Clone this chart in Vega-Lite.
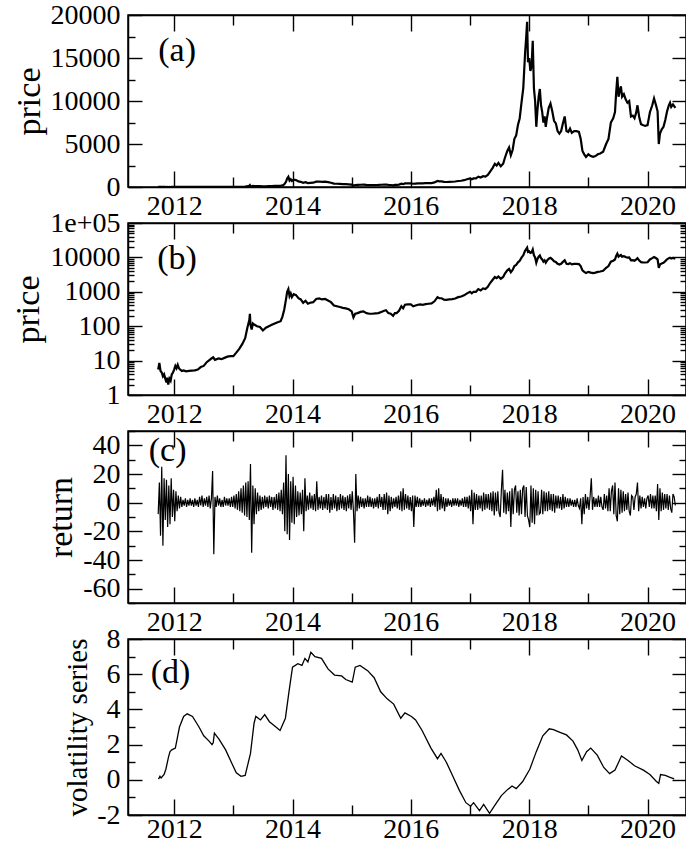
{
"$schema": "https://vega.github.io/schema/vega-lite/v6.json",
"padding": {"left": 11, "top": 0, "right": 0, "bottom": 0},
"spacing": 36,
"bounds": "flush",
"config": {
  "font": "Liberation Serif",
  "text": {"font": "Liberation Serif", "fontWeight": "normal"},
  "view": {"stroke": "black", "strokeWidth": 1.5},
  "axis": {"domainColor": "black", "domainWidth": 1.5, "tickColor": "black", "tickWidth": 1.4, "labelColor": "black", "labelFont": "Liberation Serif", "labelFontWeight": "normal", "labelFontSize": 28, "titleFont": "Liberation Serif", "titleFontWeight": "normal", "titleColor": "black", "grid": false, "labelFlush": false, "labelOverlap": false, "labelBound": false}
},
"datasets": {
  "price": [
    {"t":2011.73,"p":5.5},{"t":2011.75,"p":8.5},{"t":2011.77,"p":5},{"t":2011.79,"p":4.5},{"t":2011.81,"p":3.5},{"t":2011.83,"p":4},{"t":2011.85,"p":3},{"t":2011.87,"p":2.3},{"t":2011.88,"p":3.2},{"t":2011.9,"p":2},{"t":2011.92,"p":3},{"t":2011.94,"p":2.6},{"t":2011.96,"p":4},{"t":2011.98,"p":4.5},{"t":2012.0,"p":5.5},{"t":2012.02,"p":7},{"t":2012.04,"p":6},{"t":2012.06,"p":7.5},{"t":2012.08,"p":6},{"t":2012.1,"p":5.5},{"t":2012.13,"p":5},{"t":2012.16,"p":5.2},{"t":2012.2,"p":4.9},{"t":2012.25,"p":5.0},{"t":2012.3,"p":5.1},{"t":2012.35,"p":5.2},{"t":2012.4,"p":5.5},{"t":2012.45,"p":6.5},{"t":2012.5,"p":7},{"t":2012.55,"p":9},{"t":2012.6,"p":10.5},{"t":2012.63,"p":11.5},{"t":2012.66,"p":12.5},{"t":2012.69,"p":10.5},{"t":2012.75,"p":11.5},{"t":2012.8,"p":11},{"t":2012.85,"p":12},{"t":2012.9,"p":13},{"t":2012.95,"p":13.5},{"t":2013.0,"p":13.5},{"t":2013.05,"p":17},{"t":2013.1,"p":22},{"t":2013.15,"p":30},{"t":2013.2,"p":45},{"t":2013.24,"p":95},{"t":2013.27,"p":150},{"t":2013.28,"p":230},{"t":2013.29,"p":110},{"t":2013.31,"p":80},{"t":2013.33,"p":120},{"t":2013.36,"p":110},{"t":2013.4,"p":100},{"t":2013.45,"p":95},{"t":2013.5,"p":75},{"t":2013.55,"p":90},{"t":2013.6,"p":100},{"t":2013.65,"p":110},{"t":2013.7,"p":120},{"t":2013.75,"p":130},{"t":2013.8,"p":140},{"t":2013.83,"p":190},{"t":2013.86,"p":300},{"t":2013.89,"p":600},{"t":2013.91,"p":1000},{"t":2013.93,"p":1200},{"t":2013.95,"p":750},{"t":2013.97,"p":900},{"t":2013.99,"p":700},{"t":2014.02,"p":850},{"t":2014.06,"p":800},{"t":2014.1,"p":650},{"t":2014.14,"p":600},{"t":2014.18,"p":480},{"t":2014.22,"p":550},{"t":2014.26,"p":450},{"t":2014.3,"p":480},{"t":2014.35,"p":500},{"t":2014.4,"p":620},{"t":2014.45,"p":640},{"t":2014.5,"p":600},{"t":2014.55,"p":620},{"t":2014.6,"p":560},{"t":2014.65,"p":500},{"t":2014.7,"p":400},{"t":2014.75,"p":380},{"t":2014.8,"p":360},{"t":2014.85,"p":340},{"t":2014.9,"p":330},{"t":2014.95,"p":310},{"t":2015.0,"p":270},{"t":2015.03,"p":180},{"t":2015.06,"p":230},{"t":2015.1,"p":240},{"t":2015.15,"p":260},{"t":2015.2,"p":270},{"t":2015.25,"p":240},{"t":2015.3,"p":230},{"t":2015.35,"p":230},{"t":2015.4,"p":235},{"t":2015.45,"p":240},{"t":2015.5,"p":260},{"t":2015.55,"p":280},{"t":2015.58,"p":290},{"t":2015.62,"p":240},{"t":2015.66,"p":230},{"t":2015.7,"p":200},{"t":2015.73,"p":240},{"t":2015.76,"p":240},{"t":2015.8,"p":280},{"t":2015.84,"p":380},{"t":2015.87,"p":330},{"t":2015.9,"p":420},{"t":2015.95,"p":430},{"t":2016.0,"p":430},{"t":2016.04,"p":380},{"t":2016.08,"p":400},{"t":2016.12,"p":420},{"t":2016.16,"p":430},{"t":2016.2,"p":420},{"t":2016.25,"p":440},{"t":2016.3,"p":450},{"t":2016.35,"p":460},{"t":2016.4,"p":530},{"t":2016.45,"p":700},{"t":2016.48,"p":650},{"t":2016.52,"p":650},{"t":2016.56,"p":590},{"t":2016.6,"p":580},{"t":2016.65,"p":600},{"t":2016.7,"p":610},{"t":2016.75,"p":640},{"t":2016.8,"p":700},{"t":2016.85,"p":730},{"t":2016.9,"p":790},{"t":2016.95,"p":900},{"t":2017.0,"p":1000},{"t":2017.03,"p":900},{"t":2017.06,"p":1000},{"t":2017.1,"p":1000},{"t":2017.14,"p":1200},{"t":2017.18,"p":1100},{"t":2017.22,"p":1250},{"t":2017.26,"p":1200},{"t":2017.3,"p":1400},{"t":2017.34,"p":1800},{"t":2017.38,"p":2200},{"t":2017.42,"p":2700},{"t":2017.45,"p":2500},{"t":2017.48,"p":2800},{"t":2017.52,"p":2400},{"t":2017.56,"p":2700},{"t":2017.59,"p":3400},{"t":2017.63,"p":4200},{"t":2017.66,"p":4600},{"t":2017.69,"p":3700},{"t":2017.72,"p":4300},{"t":2017.75,"p":5600},{"t":2017.78,"p":6000},{"t":2017.81,"p":7200},{"t":2017.84,"p":8000},{"t":2017.87,"p":9800},{"t":2017.9,"p":11500},{"t":2017.93,"p":15500},{"t":2017.95,"p":17500},{"t":2017.965,"p":19200},{"t":2017.98,"p":14500},{"t":2018.0,"p":15000},{"t":2018.02,"p":13500},{"t":2018.04,"p":14000},{"t":2018.06,"p":17000},{"t":2018.08,"p":11500},{"t":2018.1,"p":10000},{"t":2018.12,"p":7000},{"t":2018.14,"p":9000},{"t":2018.16,"p":10500},{"t":2018.18,"p":11400},{"t":2018.2,"p":9500},{"t":2018.22,"p":8700},{"t":2018.24,"p":7500},{"t":2018.26,"p":8200},{"t":2018.28,"p":7000},{"t":2018.3,"p":8000},{"t":2018.33,"p":9200},{"t":2018.36,"p":9700},{"t":2018.39,"p":8800},{"t":2018.42,"p":7700},{"t":2018.45,"p":7400},{"t":2018.48,"p":6500},{"t":2018.51,"p":6200},{"t":2018.54,"p":6500},{"t":2018.57,"p":7400},{"t":2018.6,"p":8200},{"t":2018.63,"p":6500},{"t":2018.66,"p":6400},{"t":2018.69,"p":6800},{"t":2018.72,"p":6300},{"t":2018.76,"p":6500},{"t":2018.8,"p":6500},{"t":2018.84,"p":6400},{"t":2018.87,"p":5600},{"t":2018.9,"p":4200},{"t":2018.93,"p":3800},{"t":2018.96,"p":3500},{"t":2019.0,"p":3800},{"t":2019.04,"p":3600},{"t":2019.08,"p":3500},{"t":2019.12,"p":3600},{"t":2019.16,"p":3800},{"t":2019.2,"p":3900},{"t":2019.25,"p":4100},{"t":2019.3,"p":5000},{"t":2019.34,"p":5600},{"t":2019.38,"p":7500},{"t":2019.42,"p":8000},{"t":2019.45,"p":8700},{"t":2019.47,"p":11000},{"t":2019.49,"p":12800},{"t":2019.51,"p":10500},{"t":2019.53,"p":11200},{"t":2019.55,"p":11700},{"t":2019.57,"p":10500},{"t":2019.6,"p":10800},{"t":2019.63,"p":10200},{"t":2019.66,"p":9800},{"t":2019.69,"p":10000},{"t":2019.72,"p":8200},{"t":2019.75,"p":8300},{"t":2019.78,"p":8000},{"t":2019.81,"p":8700},{"t":2019.83,"p":9500},{"t":2019.86,"p":8100},{"t":2019.89,"p":7300},{"t":2019.92,"p":7200},{"t":2019.96,"p":7100},{"t":2020.0,"p":7200},{"t":2020.04,"p":8700},{"t":2020.08,"p":9500},{"t":2020.11,"p":10300},{"t":2020.14,"p":9600},{"t":2020.17,"p":8800},{"t":2020.19,"p":5000},{"t":2020.21,"p":6200},{"t":2020.24,"p":6700},{"t":2020.27,"p":7000},{"t":2020.3,"p":7800},{"t":2020.33,"p":8800},{"t":2020.36,"p":9500},{"t":2020.38,"p":9800},{"t":2020.4,"p":9300},{"t":2020.43,"p":9600},{"t":2020.47,"p":9200}
  ],
  "ret": [
    {"t":2011.73,"r":-8},{"t":2011.75,"r":14},{"t":2011.77,"r":-23},{"t":2011.79,"r":25},{"t":2011.81,"r":-30},{"t":2011.83,"r":17},{"t":2011.85,"r":-12},{"t":2011.87,"r":16},{"t":2011.89,"r":-17},{"t":2011.91,"r":12},{"t":2011.93,"r":-15},{"t":2011.95,"r":17},{"t":2011.97,"r":-10},{"t":2011.99,"r":9},
    {"t":2012.01,"r":-13},{"t":2012.03,"r":8},{"t":2012.05,"r":-6},{"t":2012.07,"r":5},{"t":2012.09,"r":-4},{"t":2012.11,"r":4},{"t":2012.13,"r":-3},{"t":2012.15,"r":2},{"t":2012.17,"r":-2},{"t":2012.19,"r":3},{"t":2012.21,"r":-3},{"t":2012.23,"r":2},{"t":2012.25,"r":-2},{"t":2012.27,"r":3},{"t":2012.29,"r":-2},{"t":2012.31,"r":2},{"t":2012.33,"r":-3},{"t":2012.35,"r":3},{"t":2012.37,"r":-2},{"t":2012.39,"r":2},{"t":2012.41,"r":-3},{"t":2012.43,"r":4},{"t":2012.45,"r":-2},{"t":2012.47,"r":5},{"t":2012.49,"r":-3},{"t":2012.51,"r":3},{"t":2012.53,"r":-2},{"t":2012.55,"r":4},{"t":2012.57,"r":-3},{"t":2012.59,"r":5},{"t":2012.61,"r":-4},{"t":2012.63,"r":3},{"t":2012.65,"r":22},{"t":2012.67,"r":-36},{"t":2012.69,"r":4},{"t":2012.71,"r":-3},{"t":2012.73,"r":5},{"t":2012.75,"r":-2},{"t":2012.77,"r":3},{"t":2012.79,"r":-3},{"t":2012.81,"r":2},{"t":2012.83,"r":-3},{"t":2012.85,"r":4},{"t":2012.87,"r":-2},{"t":2012.89,"r":3},{"t":2012.91,"r":-2},{"t":2012.93,"r":3},{"t":2012.95,"r":-3},{"t":2012.97,"r":4},{"t":2012.99,"r":-3},
    {"t":2013.01,"r":5},{"t":2013.03,"r":-4},{"t":2013.05,"r":6},{"t":2013.07,"r":-5},{"t":2013.09,"r":8},{"t":2013.11,"r":-6},{"t":2013.13,"r":10},{"t":2013.15,"r":-7},{"t":2013.17,"r":12},{"t":2013.19,"r":-9},{"t":2013.21,"r":14},{"t":2013.23,"r":-10},{"t":2013.25,"r":15},{"t":2013.27,"r":-12},{"t":2013.29,"r":27},{"t":2013.31,"r":-35},{"t":2013.33,"r":12},{"t":2013.35,"r":-15},{"t":2013.37,"r":10},{"t":2013.39,"r":-8},{"t":2013.41,"r":7},{"t":2013.43,"r":-6},{"t":2013.45,"r":5},{"t":2013.47,"r":-5},{"t":2013.49,"r":4},{"t":2013.51,"r":-4},{"t":2013.53,"r":5},{"t":2013.55,"r":-3},{"t":2013.57,"r":4},{"t":2013.59,"r":-4},{"t":2013.61,"r":5},{"t":2013.63,"r":-3},{"t":2013.65,"r":4},{"t":2013.67,"r":-5},{"t":2013.69,"r":4},{"t":2013.71,"r":-4},{"t":2013.73,"r":6},{"t":2013.75,"r":-5},{"t":2013.77,"r":7},{"t":2013.79,"r":-6},{"t":2013.81,"r":9},{"t":2013.83,"r":-8},{"t":2013.85,"r":14},{"t":2013.87,"r":-20},{"t":2013.89,"r":33},{"t":2013.91,"r":-22},{"t":2013.93,"r":20},{"t":2013.95,"r":-26},{"t":2013.97,"r":15},{"t":2013.99,"r":-14},
    {"t":2014.01,"r":18},{"t":2014.03,"r":-15},{"t":2014.05,"r":12},{"t":2014.07,"r":-10},{"t":2014.09,"r":8},{"t":2014.11,"r":-9},{"t":2014.13,"r":7},{"t":2014.15,"r":-8},{"t":2014.17,"r":9},{"t":2014.19,"r":-20},{"t":2014.21,"r":17},{"t":2014.23,"r":-6},{"t":2014.25,"r":5},{"t":2014.27,"r":-5},{"t":2014.29,"r":7},{"t":2014.31,"r":-4},{"t":2014.33,"r":5},{"t":2014.35,"r":-5},{"t":2014.37,"r":6},{"t":2014.39,"r":-6},{"t":2014.41,"r":15},{"t":2014.43,"r":-5},{"t":2014.45,"r":4},{"t":2014.47,"r":-4},{"t":2014.49,"r":5},{"t":2014.51,"r":-5},{"t":2014.53,"r":4},{"t":2014.55,"r":-4},{"t":2014.57,"r":6},{"t":2014.59,"r":-5},{"t":2014.61,"r":6},{"t":2014.63,"r":-7},{"t":2014.65,"r":4},{"t":2014.67,"r":-5},{"t":2014.69,"r":6},{"t":2014.71,"r":-4},{"t":2014.73,"r":5},{"t":2014.75,"r":-6},{"t":2014.77,"r":4},{"t":2014.79,"r":-5},{"t":2014.81,"r":6},{"t":2014.83,"r":-4},{"t":2014.85,"r":5},{"t":2014.87,"r":-5},{"t":2014.89,"r":4},{"t":2014.91,"r":-6},{"t":2014.93,"r":5},{"t":2014.95,"r":-4},{"t":2014.97,"r":6},{"t":2014.99,"r":-5},
    {"t":2015.01,"r":8},{"t":2015.03,"r":-6},{"t":2015.05,"r":-28},{"t":2015.07,"r":20},{"t":2015.09,"r":-6},{"t":2015.11,"r":5},{"t":2015.13,"r":-4},{"t":2015.15,"r":4},{"t":2015.17,"r":-3},{"t":2015.19,"r":3},{"t":2015.21,"r":-4},{"t":2015.23,"r":3},{"t":2015.25,"r":-3},{"t":2015.27,"r":5},{"t":2015.29,"r":-3},{"t":2015.31,"r":4},{"t":2015.33,"r":-3},{"t":2015.35,"r":3},{"t":2015.37,"r":-4},{"t":2015.39,"r":3},{"t":2015.41,"r":-3},{"t":2015.43,"r":4},{"t":2015.45,"r":-4},{"t":2015.47,"r":6},{"t":2015.49,"r":-3},{"t":2015.51,"r":4},{"t":2015.53,"r":-5},{"t":2015.55,"r":6},{"t":2015.57,"r":-5},{"t":2015.59,"r":7},{"t":2015.61,"r":-8},{"t":2015.63,"r":5},{"t":2015.65,"r":-6},{"t":2015.67,"r":4},{"t":2015.69,"r":-4},{"t":2015.71,"r":3},{"t":2015.73,"r":-3},{"t":2015.75,"r":4},{"t":2015.77,"r":-4},{"t":2015.79,"r":5},{"t":2015.81,"r":-5},{"t":2015.83,"r":8},{"t":2015.85,"r":-6},{"t":2015.87,"r":10},{"t":2015.89,"r":-5},{"t":2015.91,"r":6},{"t":2015.93,"r":-4},{"t":2015.95,"r":5},{"t":2015.97,"r":-5},{"t":2015.99,"r":4},
    {"t":2016.01,"r":-6},{"t":2016.03,"r":5},{"t":2016.05,"r":-17},{"t":2016.07,"r":5},{"t":2016.09,"r":-3},{"t":2016.11,"r":4},{"t":2016.13,"r":-3},{"t":2016.15,"r":3},{"t":2016.17,"r":-3},{"t":2016.19,"r":2},{"t":2016.21,"r":-2},{"t":2016.23,"r":3},{"t":2016.25,"r":-3},{"t":2016.27,"r":2},{"t":2016.29,"r":-2},{"t":2016.31,"r":3},{"t":2016.33,"r":-3},{"t":2016.35,"r":3},{"t":2016.37,"r":-2},{"t":2016.39,"r":4},{"t":2016.41,"r":-3},{"t":2016.43,"r":9},{"t":2016.45,"r":-6},{"t":2016.47,"r":10},{"t":2016.49,"r":-5},{"t":2016.51,"r":6},{"t":2016.53,"r":-4},{"t":2016.55,"r":4},{"t":2016.57,"r":-6},{"t":2016.59,"r":3},{"t":2016.61,"r":-3},{"t":2016.63,"r":3},{"t":2016.65,"r":-2},{"t":2016.67,"r":2},{"t":2016.69,"r":-3},{"t":2016.71,"r":3},{"t":2016.73,"r":-2},{"t":2016.75,"r":3},{"t":2016.77,"r":-2},{"t":2016.79,"r":3},{"t":2016.81,"r":-3},{"t":2016.83,"r":2},{"t":2016.85,"r":-2},{"t":2016.87,"r":3},{"t":2016.89,"r":-3},{"t":2016.91,"r":4},{"t":2016.93,"r":-3},{"t":2016.95,"r":4},{"t":2016.97,"r":-4},{"t":2016.99,"r":5},
    {"t":2017.01,"r":-6},{"t":2017.03,"r":9},{"t":2017.05,"r":-15},{"t":2017.07,"r":7},{"t":2017.09,"r":-5},{"t":2017.11,"r":6},{"t":2017.13,"r":-5},{"t":2017.15,"r":5},{"t":2017.17,"r":-4},{"t":2017.19,"r":5},{"t":2017.21,"r":-6},{"t":2017.23,"r":7},{"t":2017.25,"r":-5},{"t":2017.27,"r":6},{"t":2017.29,"r":-4},{"t":2017.31,"r":6},{"t":2017.33,"r":-5},{"t":2017.35,"r":7},{"t":2017.37,"r":-6},{"t":2017.39,"r":8},{"t":2017.41,"r":-9},{"t":2017.43,"r":7},{"t":2017.45,"r":-6},{"t":2017.47,"r":8},{"t":2017.49,"r":-7},{"t":2017.51,"r":-10},{"t":2017.53,"r":9},{"t":2017.55,"r":23},{"t":2017.57,"r":-7},{"t":2017.59,"r":9},{"t":2017.61,"r":-8},{"t":2017.63,"r":7},{"t":2017.65,"r":-6},{"t":2017.67,"r":8},{"t":2017.69,"r":-17},{"t":2017.71,"r":10},{"t":2017.73,"r":-8},{"t":2017.75,"r":9},{"t":2017.77,"r":12},{"t":2017.79,"r":-7},{"t":2017.81,"r":8},{"t":2017.83,"r":-9},{"t":2017.85,"r":9},{"t":2017.87,"r":-8},{"t":2017.89,"r":10},{"t":2017.91,"r":12},{"t":2017.93,"r":-10},{"t":2017.95,"r":11},{"t":2017.97,"r":-9},{"t":2017.99,"r":-12},
    {"t":2018.01,"r":-17},{"t":2018.03,"r":12},{"t":2018.05,"r":-14},{"t":2018.07,"r":10},{"t":2018.09,"r":-15},{"t":2018.11,"r":9},{"t":2018.13,"r":-9},{"t":2018.15,"r":8},{"t":2018.17,"r":-8},{"t":2018.19,"r":-7},{"t":2018.21,"r":9},{"t":2018.23,"r":-8},{"t":2018.25,"r":8},{"t":2018.27,"r":-6},{"t":2018.29,"r":7},{"t":2018.31,"r":-6},{"t":2018.33,"r":8},{"t":2018.35,"r":-5},{"t":2018.37,"r":6},{"t":2018.39,"r":-6},{"t":2018.41,"r":6},{"t":2018.43,"r":-7},{"t":2018.45,"r":5},{"t":2018.47,"r":-4},{"t":2018.49,"r":5},{"t":2018.51,"r":-4},{"t":2018.53,"r":4},{"t":2018.55,"r":-5},{"t":2018.57,"r":6},{"t":2018.59,"r":-4},{"t":2018.61,"r":4},{"t":2018.63,"r":-3},{"t":2018.65,"r":3},{"t":2018.67,"r":-3},{"t":2018.69,"r":3},{"t":2018.71,"r":-2},{"t":2018.73,"r":2},{"t":2018.75,"r":-3},{"t":2018.77,"r":2},{"t":2018.79,"r":-3},{"t":2018.81,"r":3},{"t":2018.83,"r":-2},{"t":2018.85,"r":-4},{"t":2018.87,"r":3},{"t":2018.89,"r":-15},{"t":2018.91,"r":4},{"t":2018.93,"r":-8},{"t":2018.95,"r":6},{"t":2018.97,"r":-4},{"t":2018.99,"r":4},
    {"t":2019.01,"r":-5},{"t":2019.03,"r":5},{"t":2019.05,"r":17},{"t":2019.07,"r":-5},{"t":2019.09,"r":4},{"t":2019.11,"r":-3},{"t":2019.13,"r":3},{"t":2019.15,"r":-3},{"t":2019.17,"r":5},{"t":2019.19,"r":-3},{"t":2019.21,"r":4},{"t":2019.23,"r":-3},{"t":2019.25,"r":-5},{"t":2019.27,"r":6},{"t":2019.29,"r":-4},{"t":2019.31,"r":5},{"t":2019.33,"r":-6},{"t":2019.35,"r":10},{"t":2019.37,"r":-6},{"t":2019.39,"r":8},{"t":2019.41,"r":12},{"t":2019.43,"r":-8},{"t":2019.45,"r":14},{"t":2019.47,"r":-9},{"t":2019.49,"r":-13},{"t":2019.51,"r":10},{"t":2019.53,"r":-8},{"t":2019.55,"r":9},{"t":2019.57,"r":-7},{"t":2019.59,"r":8},{"t":2019.61,"r":-6},{"t":2019.63,"r":6},{"t":2019.65,"r":-5},{"t":2019.67,"r":7},{"t":2019.69,"r":-6},{"t":2019.71,"r":-9},{"t":2019.73,"r":5},{"t":2019.75,"r":4},{"t":2019.77,"r":-5},{"t":2019.79,"r":4},{"t":2019.81,"r":6},{"t":2019.83,"r":14},{"t":2019.85,"r":-6},{"t":2019.87,"r":5},{"t":2019.89,"r":-4},{"t":2019.91,"r":4},{"t":2019.93,"r":-3},{"t":2019.95,"r":3},{"t":2019.97,"r":-4},{"t":2019.99,"r":3},
    {"t":2020.01,"r":5},{"t":2020.03,"r":-3},{"t":2020.05,"r":6},{"t":2020.07,"r":-4},{"t":2020.09,"r":5},{"t":2020.11,"r":-4},{"t":2020.13,"r":5},{"t":2020.15,"r":-6},{"t":2020.17,"r":13},{"t":2020.19,"r":-12},{"t":2020.21,"r":10},{"t":2020.23,"r":-6},{"t":2020.25,"r":7},{"t":2020.27,"r":-5},{"t":2020.29,"r":6},{"t":2020.31,"r":-4},{"t":2020.33,"r":6},{"t":2020.35,"r":-5},{"t":2020.37,"r":5},{"t":2020.39,"r":-4},{"t":2020.41,"r":-7},{"t":2020.43,"r":6},{"t":2020.45,"r":4},{"t":2020.47,"r":-2}
  ],
  "vol": [
    {"t":2011.736,"v":0.04},{"t":2011.76,"v":0.2},{"t":2011.78,"v":0.1},{"t":2011.83,"v":0.3},{"t":2011.86,"v":0.6},{"t":2011.905,"v":1.3},{"t":2011.93,"v":1.6},{"t":2011.96,"v":1.7},{"t":2012.02,"v":1.8},{"t":2012.09,"v":3.0},{"t":2012.16,"v":3.6},{"t":2012.22,"v":3.75},{"t":2012.31,"v":3.6},{"t":2012.42,"v":3.0},{"t":2012.5,"v":2.5},{"t":2012.59,"v":2.2},{"t":2012.64,"v":2.0},{"t":2012.66,"v":2.1},{"t":2012.68,"v":2.65},{"t":2012.76,"v":2.3},{"t":2012.87,"v":1.7},{"t":2012.98,"v":0.9},{"t":2013.05,"v":0.4},{"t":2013.13,"v":0.2},{"t":2013.2,"v":0.25},{"t":2013.24,"v":0.8},{"t":2013.29,"v":1.5},{"t":2013.35,"v":3.2},{"t":2013.38,"v":3.6},{"t":2013.46,"v":3.4},{"t":2013.53,"v":3.7},{"t":2013.61,"v":3.3},{"t":2013.72,"v":3.0},{"t":2013.79,"v":2.8},{"t":2013.88,"v":3.5},{"t":2013.94,"v":5.0},{"t":2014.0,"v":6.4},{"t":2014.09,"v":6.6},{"t":2014.16,"v":6.5},{"t":2014.21,"v":6.9},{"t":2014.26,"v":6.7},{"t":2014.31,"v":7.25},{"t":2014.38,"v":7.0},{"t":2014.49,"v":6.9},{"t":2014.6,"v":6.3},{"t":2014.71,"v":5.95},{"t":2014.83,"v":5.9},{"t":2014.9,"v":5.7},{"t":2015.01,"v":5.55},{"t":2015.06,"v":6.4},{"t":2015.14,"v":6.5},{"t":2015.27,"v":6.2},{"t":2015.38,"v":5.8},{"t":2015.49,"v":5.0},{"t":2015.6,"v":4.6},{"t":2015.71,"v":4.3},{"t":2015.83,"v":3.5},{"t":2015.9,"v":3.8},{"t":2016.01,"v":3.6},{"t":2016.08,"v":3.4},{"t":2016.19,"v":2.8},{"t":2016.34,"v":1.8},{"t":2016.45,"v":1.2},{"t":2016.51,"v":1.5},{"t":2016.6,"v":1.0},{"t":2016.71,"v":0.2},{"t":2016.82,"v":-0.6},{"t":2016.93,"v":-1.3},{"t":2017.01,"v":-1.5},{"t":2017.06,"v":-1.3},{"t":2017.16,"v":-1.75},{"t":2017.23,"v":-1.4},{"t":2017.33,"v":-1.9},{"t":2017.41,"v":-1.5},{"t":2017.53,"v":-0.9},{"t":2017.62,"v":-0.6},{"t":2017.71,"v":-0.35},{"t":2017.78,"v":-0.5},{"t":2017.89,"v":-0.1},{"t":2018.01,"v":0.6},{"t":2018.12,"v":1.6},{"t":2018.23,"v":2.5},{"t":2018.34,"v":2.9},{"t":2018.41,"v":2.85},{"t":2018.52,"v":2.7},{"t":2018.63,"v":2.55},{"t":2018.74,"v":2.2},{"t":2018.82,"v":1.7},{"t":2018.89,"v":1.1},{"t":2018.97,"v":1.6},{"t":2019.04,"v":1.8},{"t":2019.15,"v":1.4},{"t":2019.26,"v":0.7},{"t":2019.36,"v":0.35},{"t":2019.45,"v":0.55},{"t":2019.56,"v":1.35},{"t":2019.67,"v":1.1},{"t":2019.78,"v":0.8},{"t":2019.93,"v":0.55},{"t":2020.04,"v":0.3},{"t":2020.15,"v":-0.1},{"t":2020.19,"v":-0.2},{"t":2020.22,"v":0.3},{"t":2020.3,"v":0.25},{"t":2020.37,"v":0.15},{"t":2020.45,"v":0.05}
  ],
  "one": [{}]
},
"vconcat": [
  {
    "width": 558, "height": 172,
    "layer": [
      {"data": {"name": "price"}, "mark": {"type": "line", "color": "black", "strokeWidth": 2.2},
       "encoding": {
         "x": {"field": "t", "type": "quantitative", "scale": {"domain": [2011.22, 2020.65], "nice": false, "zero": false},
               "axis": {"orient": "bottom", "title": null, "labelFont": "Liberation Serif", "values": [2012,2013,2014,2015,2016,2017,2018,2019,2020], "format": "d", "labelExpr": "datum.value % 2 == 0 ? datum.label : ''", "tickSize": {"condition": {"test": "datum.value % 2 == 0", "value": -16}, "value": -10}, "labelPadding": 21}},
         "y": {"field": "p", "type": "quantitative", "scale": {"domain": [0, 20000], "nice": false},
               "axis": {"orient": "left", "title": "price", "titleFontSize": 34, "labelFont": "Liberation Serif", "values": [0,2500,5000,7500,10000,12500,15000,17500,20000], "labelExpr": "datum.value % 5000 == 0 ? '' + datum.value : ''", "tickSize": {"condition": {"test": "datum.value % 5000 == 0", "value": -14}, "value": -7}, "labelPadding": 22}}
       }},
      {"data": {"name": "price"}, "mark": {"type": "line", "opacity": 0},
       "encoding": {
         "x": {"field": "t", "type": "quantitative", "axis": {"orient": "top", "title": null, "labels": false, "values": [2012,2013,2014,2015,2016,2017,2018,2019,2020], "tickSize": {"condition": {"test": "datum.value % 2 == 0", "value": -16}, "value": -10}}},
         "y": {"field": "p", "type": "quantitative", "axis": {"orient": "right", "title": null, "labels": false, "values": [0,2500,5000,7500,10000,12500,15000,17500,20000], "tickSize": {"condition": {"test": "datum.value % 5000 == 0", "value": -14}, "value": -7}}}
       }},
      {"data": {"name": "one"}, "mark": {"type": "text", "fontSize": 34, "font": "Liberation Serif", "fontWeight": "normal", "align": "center", "baseline": "middle", "color": "black"},
       "encoding": {"x": {"datum": 2012.05, "type": "quantitative", "axis": null}, "y": {"datum": 15800, "type": "quantitative", "axis": null}, "text": {"value": "(a)"}}}
    ],
    "resolve": {"axis": {"x": "independent", "y": "independent"}}
  },
  {
    "width": 558, "height": 172,
    "layer": [
      {"data": {"name": "price"}, "mark": {"type": "line", "color": "black", "strokeWidth": 2.2},
       "encoding": {
         "x": {"field": "t", "type": "quantitative", "scale": {"domain": [2011.22, 2020.65], "nice": false, "zero": false},
               "axis": {"orient": "bottom", "title": null, "labelFont": "Liberation Serif", "values": [2012,2013,2014,2015,2016,2017,2018,2019,2020], "format": "d", "labelExpr": "datum.value % 2 == 0 ? datum.label : ''", "tickSize": {"condition": {"test": "datum.value % 2 == 0", "value": -16}, "value": -10}, "labelPadding": 21}},
         "y": {"field": "p", "type": "quantitative", "scale": {"type": "log", "domain": [1, 100000], "nice": false},
               "axis": {"orient": "left", "title": "price", "titleFontSize": 34, "labelFont": "Liberation Serif", "values": [1,2,3,4,5,6,7,8,9,10,20,30,40,50,60,70,80,90,100,200,300,400,500,600,700,800,900,1000,2000,3000,4000,5000,6000,7000,8000,9000,10000,20000,30000,40000,50000,60000,70000,80000,90000,100000], "labelExpr": "datum.value == 100000 ? '1e+05' : (datum.value == 1 || datum.value == 10 || datum.value == 100 || datum.value == 1000 || datum.value == 10000) ? '' + datum.value : ''", "tickSize": {"condition": {"test": "datum.value == 1 || datum.value == 10 || datum.value == 100 || datum.value == 1000 || datum.value == 10000 || datum.value == 100000", "value": -14}, "value": -6}, "labelPadding": 22}}
       }},
      {"data": {"name": "price"}, "mark": {"type": "line", "opacity": 0},
       "encoding": {
         "x": {"field": "t", "type": "quantitative", "axis": {"orient": "top", "title": null, "labels": false, "values": [2012,2013,2014,2015,2016,2017,2018,2019,2020], "tickSize": {"condition": {"test": "datum.value % 2 == 0", "value": -16}, "value": -10}}},
         "y": {"field": "p", "type": "quantitative", "axis": {"orient": "right", "title": null, "labels": false, "values": [1,2,3,4,5,6,7,8,9,10,20,30,40,50,60,70,80,90,100,200,300,400,500,600,700,800,900,1000,2000,3000,4000,5000,6000,7000,8000,9000,10000,20000,30000,40000,50000,60000,70000,80000,90000,100000], "tickSize": {"condition": {"test": "datum.value == 1 || datum.value == 10 || datum.value == 100 || datum.value == 1000 || datum.value == 10000 || datum.value == 100000", "value": -14}, "value": -6}}}
       }},
      {"data": {"name": "one"}, "mark": {"type": "text", "fontSize": 34, "font": "Liberation Serif", "fontWeight": "normal", "align": "center", "baseline": "middle", "color": "black"},
       "encoding": {"x": {"datum": 2012.05, "type": "quantitative", "axis": null}, "y": {"datum": 9000, "type": "quantitative", "axis": null}, "text": {"value": "(b)"}}}
    ],
    "resolve": {"axis": {"x": "independent", "y": "independent"}}
  },
  {
    "width": 558, "height": 172,
    "layer": [
      {"data": {"name": "ret"}, "mark": {"type": "line", "color": "black", "strokeWidth": 1.2},
       "encoding": {
         "x": {"field": "t", "type": "quantitative", "scale": {"domain": [2011.22, 2020.65], "nice": false, "zero": false},
               "axis": {"orient": "bottom", "title": null, "labelFont": "Liberation Serif", "values": [2012,2013,2014,2015,2016,2017,2018,2019,2020], "format": "d", "labelExpr": "datum.value % 2 == 0 ? datum.label : ''", "tickSize": {"condition": {"test": "datum.value % 2 == 0", "value": -16}, "value": -10}, "labelPadding": 21}},
         "y": {"field": "r", "type": "quantitative", "scale": {"domain": [-70, 50], "nice": false, "zero": false},
               "axis": {"orient": "left", "title": "return", "titleFontSize": 34, "labelFont": "Liberation Serif", "values": [-70,-60,-50,-40,-30,-20,-10,0,10,20,30,40,50], "labelExpr": "datum.value % 20 == 0 ? '' + datum.value : ''", "tickSize": {"condition": {"test": "datum.value % 20 == 0", "value": -14}, "value": -7}, "labelPadding": 22}}
       }},
      {"data": {"name": "ret"}, "mark": {"type": "line", "opacity": 0},
       "encoding": {
         "x": {"field": "t", "type": "quantitative", "axis": {"orient": "top", "title": null, "labels": false, "values": [2012,2013,2014,2015,2016,2017,2018,2019,2020], "tickSize": {"condition": {"test": "datum.value % 2 == 0", "value": -16}, "value": -10}}},
         "y": {"field": "r", "type": "quantitative", "axis": {"orient": "right", "title": null, "labels": false, "values": [-70,-60,-50,-40,-30,-20,-10,0,10,20,30,40,50], "tickSize": {"condition": {"test": "datum.value % 20 == 0", "value": -14}, "value": -7}}}
       }},
      {"data": {"name": "one"}, "mark": {"type": "text", "fontSize": 34, "font": "Liberation Serif", "fontWeight": "normal", "align": "center", "baseline": "middle", "color": "black"},
       "encoding": {"x": {"datum": 2011.89, "type": "quantitative", "axis": null}, "y": {"datum": 36, "type": "quantitative", "axis": null}, "text": {"value": "(c)"}}}
    ],
    "resolve": {"axis": {"x": "independent", "y": "independent"}}
  },
  {
    "width": 558, "height": 176,
    "layer": [
      {"data": {"name": "vol"}, "mark": {"type": "line", "color": "black", "strokeWidth": 1.3},
       "encoding": {
         "x": {"field": "t", "type": "quantitative", "scale": {"domain": [2011.22, 2020.65], "nice": false, "zero": false},
               "axis": {"orient": "bottom", "title": null, "labelFont": "Liberation Serif", "values": [2012,2013,2014,2015,2016,2017,2018,2019,2020], "format": "d", "labelExpr": "datum.value % 2 == 0 ? datum.label : ''", "tickSize": {"condition": {"test": "datum.value % 2 == 0", "value": -16}, "value": -10}, "labelPadding": 16}},
         "y": {"field": "v", "type": "quantitative", "scale": {"domain": [-2, 8], "nice": false, "zero": false},
               "axis": {"orient": "left", "title": "volatility series", "titleFontSize": 29, "labelFont": "Liberation Serif", "values": [-2,-1,0,1,2,3,4,5,6,7,8], "labelExpr": "datum.value % 2 == 0 ? '' + datum.value : ''", "tickSize": {"condition": {"test": "datum.value % 2 == 0", "value": -14}, "value": -7}, "labelPadding": 22}}
       }},
      {"data": {"name": "vol"}, "mark": {"type": "line", "opacity": 0},
       "encoding": {
         "x": {"field": "t", "type": "quantitative", "axis": {"orient": "top", "title": null, "labels": false, "values": [2012,2013,2014,2015,2016,2017,2018,2019,2020], "tickSize": {"condition": {"test": "datum.value % 2 == 0", "value": -16}, "value": -10}}},
         "y": {"field": "v", "type": "quantitative", "axis": {"orient": "right", "title": null, "labels": false, "values": [-2,-1,0,1,2,3,4,5,6,7,8], "tickSize": {"condition": {"test": "datum.value % 2 == 0", "value": -14}, "value": -7}}}
       }},
      {"data": {"name": "one"}, "mark": {"type": "text", "fontSize": 34, "font": "Liberation Serif", "fontWeight": "normal", "align": "center", "baseline": "middle", "color": "black"},
       "encoding": {"x": {"datum": 2011.94, "type": "quantitative", "axis": null}, "y": {"datum": 6.07, "type": "quantitative", "axis": null}, "text": {"value": "(d)"}}}
    ],
    "resolve": {"axis": {"x": "independent", "y": "independent"}}
  }
]
}
